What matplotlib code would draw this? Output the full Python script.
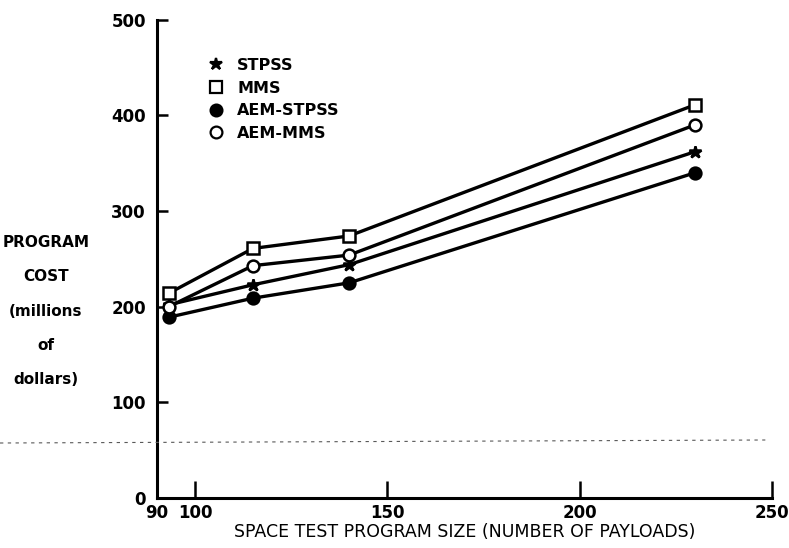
#!/usr/bin/env python3
# Program cost vs space test program size (scanned report figure)

import matplotlib.pyplot as plt
from matplotlib.lines import Line2D

# payload counts
payloads = [93, 115, 140, 230]

# program cost in millions of dollars
stpss = [202, 223, 244, 362]
mms = [214, 261, 274, 411]
aem_stpss = [189, 209, 225, 340]
aem_mms = [200, 243, 254, 390]

x_ticks = [90, 100, 150, 200, 250]
y_ticks = [0, 100, 200, 300, 400, 500]

COND = 'DejaVu Sans Condensed'

fig = plt.figure(figsize=(7.89, 5.48), dpi=100)
ax = fig.add_axes([0.199, 0.091, 0.779, 0.873])

series = [
    ('STPSS', stpss, dict(marker='*', markersize=9, markerfacecolor='black')),
    ('MMS', mms, dict(marker='s', markersize=8.5, markerfacecolor='white')),
    ('AEM-STPSS', aem_stpss, dict(marker='o', markersize=8.5, markerfacecolor='black')),
    ('AEM-MMS', aem_mms, dict(marker='o', markersize=8.5, markerfacecolor='white')),
]

handles = []
for name, vals, style in series:
    ax.plot(payloads, vals, color='black', linewidth=2.4,
            markeredgecolor='black', markeredgewidth=1.8, zorder=3, **style)
    handles.append(Line2D([], [], linestyle='none', color='black',
                          markeredgecolor='black', markeredgewidth=1.6,
                          label=name, **style))

ax.set_xlim(90, 250)
ax.set_ylim(0, 500)
ax.set_xticks(x_ticks)
ax.set_yticks(y_ticks)
ax.tick_params(axis='x', direction='in', length=12, width=1.8, labelsize=12, pad=4)
ax.tick_params(axis='y', direction='in', length=8, width=1.8, labelsize=12, pad=8)
for lab in ax.get_xticklabels() + ax.get_yticklabels():
    lab.set_fontfamily(COND)
    lab.set_fontweight('bold')

for side in ['top', 'right']:
    ax.spines[side].set_visible(False)
for side in ['left', 'bottom']:
    ax.spines[side].set_linewidth(2.2)

ax.set_xlabel('SPACE TEST PROGRAM SIZE (NUMBER OF PAYLOADS)', fontsize=12.5,
              family=COND, labelpad=1)

# y label drawn as separate lines, widely spaced like the original
ylab_lines = ['PROGRAM', 'COST', '(millions', 'of', 'dollars)']
for i, txt in enumerate(ylab_lines):
    fig.text(0.058, 1 - (242 + i * 34.5) / 548, txt, ha='center', va='center',
             fontsize=11, family=COND, fontweight='bold')

leg = ax.legend(handles=handles, loc='upper left', bbox_to_anchor=(0.063, 0.95),
                frameon=False, handlelength=0.8, handletextpad=0.9,
                labelspacing=0.48, fontsize=11.5)
for t in leg.get_texts():
    t.set_fontfamily(COND)
    t.set_fontweight('bold')

# faint scan fold line across the page
fig.add_artist(Line2D([0.0, 0.97], [1 - 443 / 548, 1 - 440 / 548],
                      transform=fig.transFigure, color='0.35',
                      linestyle=(0, (3, 4)), linewidth=0.8))

fig.savefig('out.png', dpi=100)
